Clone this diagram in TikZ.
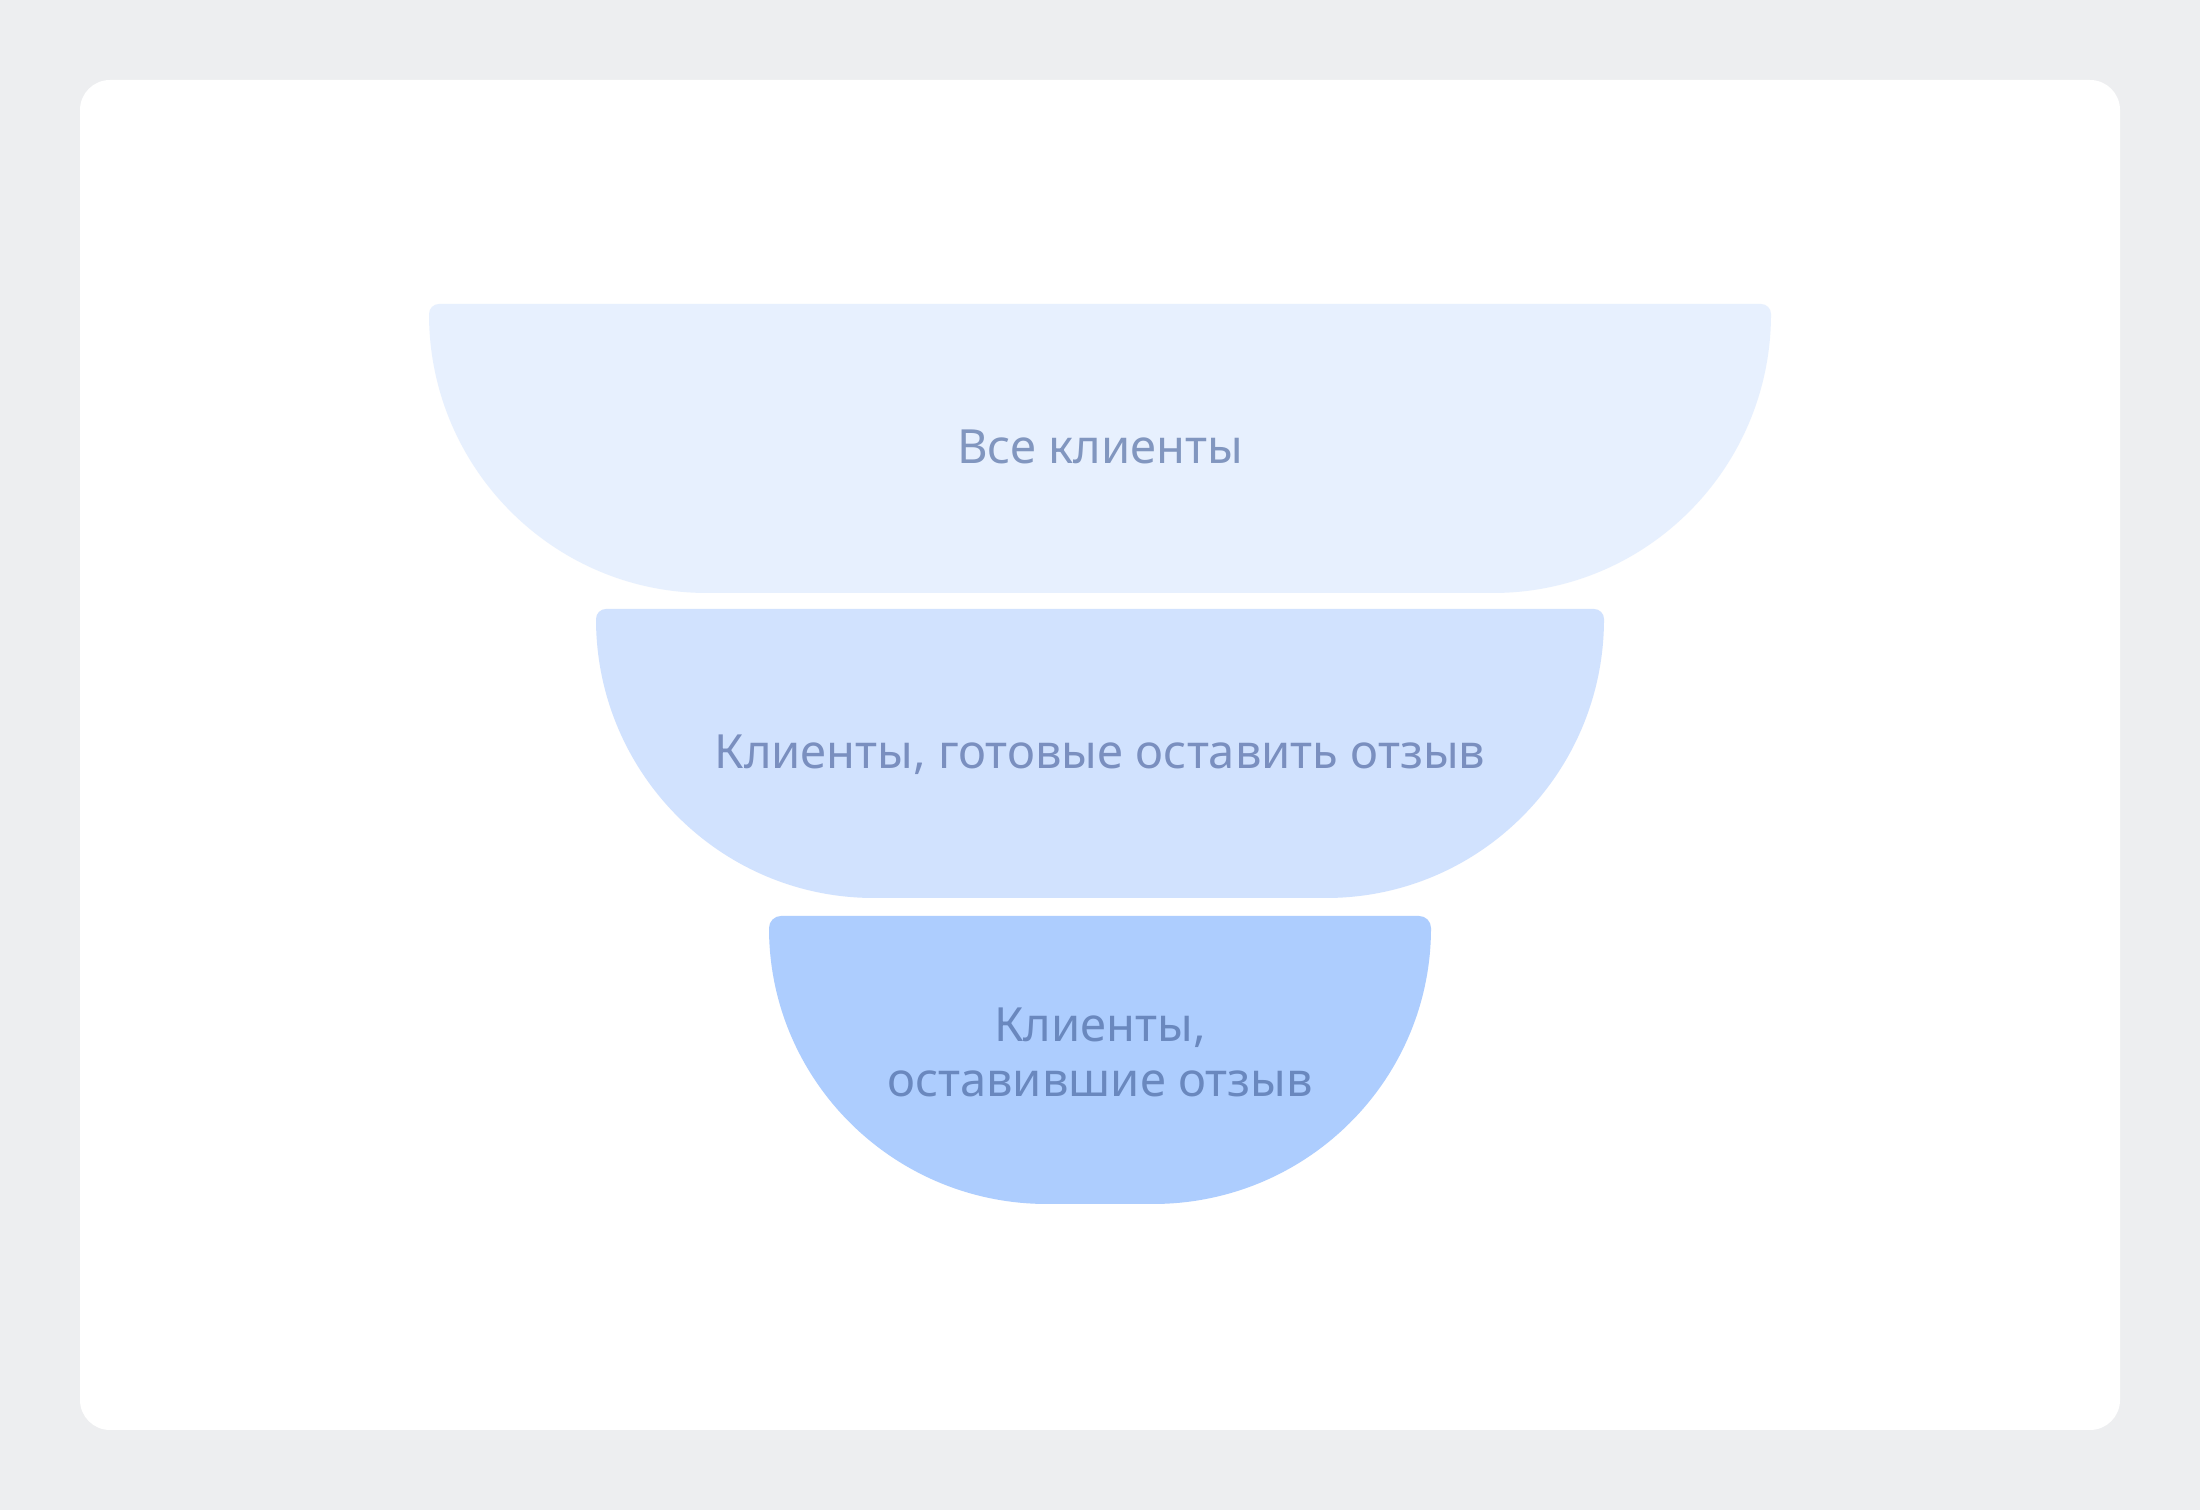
\documentclass[tikz,border=0pt]{standalone}
\usepackage{fontspec}
\setmainfont{Noto Sans}
\usepackage{tikz}
\definecolor{pagebg}{HTML}{EDEEF0}
\definecolor{tierone}{HTML}{E7F0FE}
\definecolor{tiertwo}{HTML}{D1E2FE}
\definecolor{tierthree}{HTML}{ADCDFE}
\definecolor{txtone}{HTML}{8196BF}
\definecolor{txttwo}{HTML}{7A8FBF}
\definecolor{txtthree}{HTML}{6A88BE}

\begin{document}
\begin{tikzpicture}[%
    tier/.style={
      fill=#1,
      draw=none
    },
    tiertext/.style={
      text=#1,
      font=\fontsize{13.4}{15.9}\selectfont,
      align=center,
      anchor=base,
      inner sep=0
    }]
    \fill[pagebg] (0,0) rectangle (22,15.1);
    \fill[white, rounded corners=0.3cm] (0.8,0.8) rectangle (21.2,14.3);

    \fill[tier=tierone] (4.29,11.96) arc[start angle=180,end angle=90,radius=0.1]
        -- (17.61,12.06) arc[start angle=90,end angle=0,radius=0.1]
        arc[start angle=0,end angle=-90,x radius=2.78,y radius=2.79]
        -- (7.07,9.17) arc[start angle=270,end angle=180,x radius=2.78,y radius=2.79]
        -- cycle;
    \fill[tier=tiertwo] (5.96,8.91) arc[start angle=180,end angle=90,radius=0.1]
        -- (15.94,9.01) arc[start angle=90,end angle=0,radius=0.1]
        arc[start angle=0,end angle=-90,x radius=2.78,y radius=2.79]
        -- (8.74,6.12) arc[start angle=270,end angle=180,x radius=2.78,y radius=2.79]
        -- cycle;
    \fill[tier=tierthree] (7.69,5.82) arc[start angle=180,end angle=90,radius=0.12]
        -- (14.19,5.94) arc[start angle=90,end angle=0,radius=0.12]
        arc[start angle=0,end angle=-90,x radius=2.78,y radius=2.76]
        -- (10.47,3.06) arc[start angle=270,end angle=180,x radius=2.78,y radius=2.76]
        -- cycle;

    \node[tiertext=txtone] at (11,10.46) (all) {Все клиенты};
    \node[tiertext=txttwo] at (11,7.41) (ready) {Клиенты, готовые оставить отзыв};
    \node[tiertext=txtthree] at (11,4.13) (left) {Клиенты,\\оставившие отзыв};
\end{tikzpicture}
\end{document}
